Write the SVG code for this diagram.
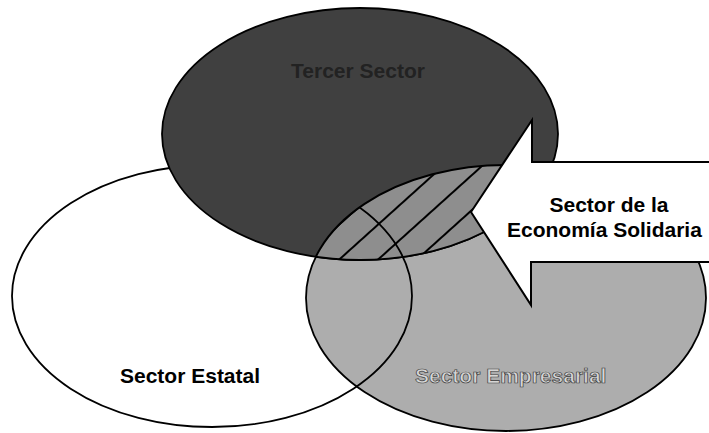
<svg xmlns="http://www.w3.org/2000/svg" width="709" height="433" viewBox="0 0 709 433">
<style>
.lbl{font-family:"Liberation Sans",Arial,sans-serif;font-weight:bold;font-size:21px}
.ol{fill:none;stroke:#000;stroke-width:1.8}
</style>
<defs>
<clipPath id="clipDark"><ellipse cx="360" cy="134" rx="198" ry="126"/></clipPath>
<clipPath id="clipGray"><ellipse cx="506" cy="298" rx="200" ry="133"/></clipPath>
<pattern id="stripes" patternUnits="userSpaceOnUse" width="26" height="10" patternTransform="translate(335,262) rotate(48)">
<rect width="26" height="10" fill="#8e8e8e"/>
<line x1="1" y1="0" x2="1" y2="10" stroke="#000" stroke-width="2"/>
</pattern>
</defs>
<rect width="709" height="433" fill="#fff"/>
<g id="sector-estatal">
<ellipse cx="212" cy="296" rx="200" ry="131" fill="#fff" stroke="#000" stroke-width="1.8"/>
</g>
<g id="sector-empresarial">
<ellipse cx="506" cy="298" rx="200" ry="133" fill="#adadad" stroke="#000" stroke-width="1.8"/>
</g>
<g id="tercer-sector">
<ellipse cx="360" cy="134" rx="198" ry="126" fill="#404040" stroke="#000" stroke-width="1.8"/>
<text class="lbl" x="358" y="78" text-anchor="middle" fill="#222">Tercer Sector</text>
</g>
<g id="overlap">
<g clip-path="url(#clipDark)">
<ellipse cx="506" cy="298" rx="200" ry="133" fill="url(#stripes)" stroke="#000" stroke-width="2"/>
</g>
<ellipse cx="360" cy="134" rx="198" ry="126" class="ol" clip-path="url(#clipGray)"/>
</g>
<g id="connectors">
<ellipse cx="212" cy="296" rx="200" ry="131" class="ol" clip-path="url(#clipGray)"/>
</g>
<g id="sector-economia-solidaria">
<polygon points="471,212 532,120 532,162 715,162 715,262 531,262 531,305" fill="#fff" stroke="#000" stroke-width="2"/>
<text class="lbl" x="609" y="212" text-anchor="middle">Sector de la</text>
<text class="lbl" x="507" y="237">Economía Solidaria</text>
</g>
<g id="labels">
<text class="lbl" x="120" y="383">Sector Estatal</text>
<text class="lbl" x="415" y="383" fill="#d6d6d6" stroke="#3a3a3a" stroke-width="0.7">Sector Empresarial</text>
</g>
</svg>
